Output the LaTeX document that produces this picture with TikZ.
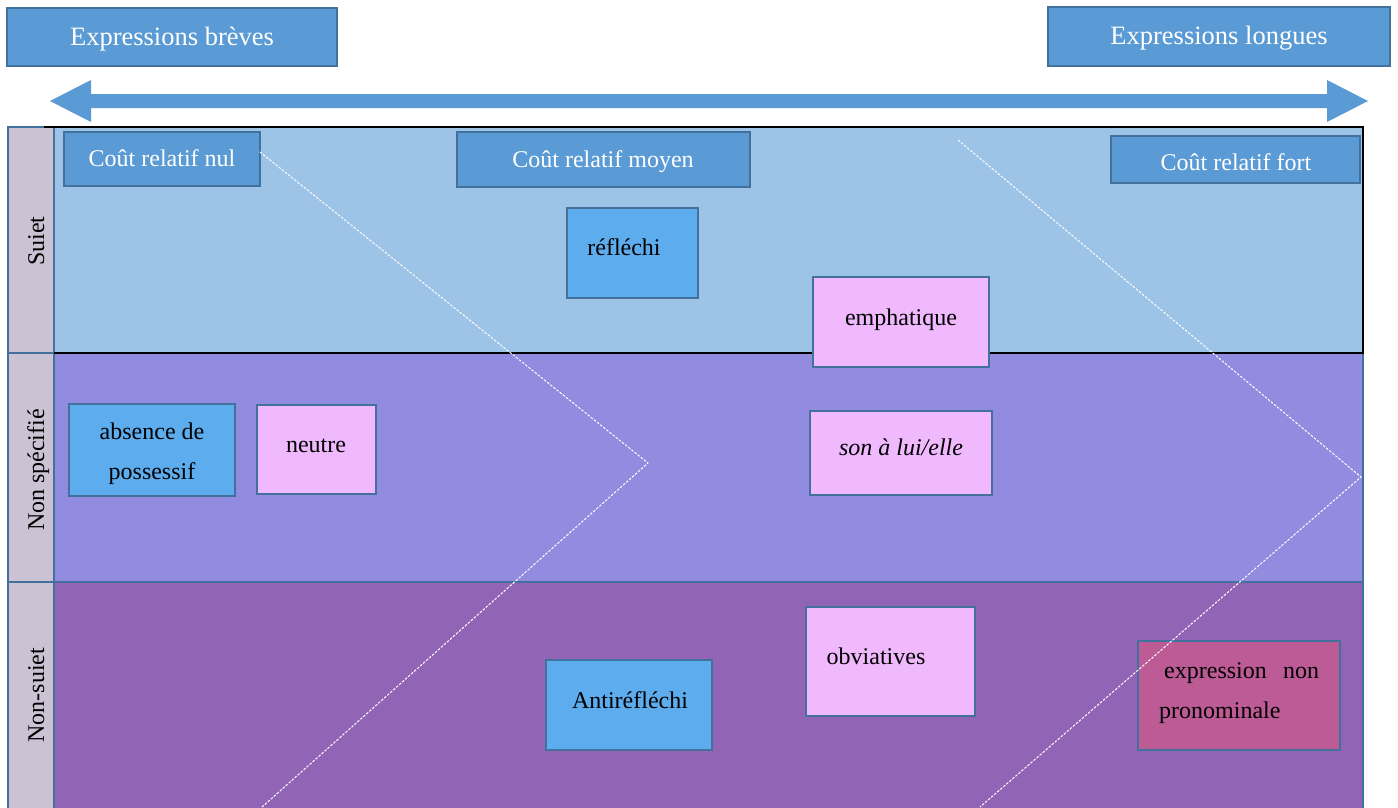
\documentclass[tikz,border=0pt]{standalone}
\usepackage{fontspec}
\setmainfont{Liberation Serif}
\definecolor{hdrblue}{HTML}{5B9BD5}
\definecolor{bordc}{HTML}{41719C}
\definecolor{suietc}{HTML}{9DC3E6}
\definecolor{nonspc}{HTML}{918CDF}
\definecolor{nonsuc}{HTML}{9264B5}
\definecolor{labc}{HTML}{CBC3D4}
\definecolor{boxblue}{HTML}{5DACEE}
\definecolor{boxpink}{HTML}{F0B9FD}
\definecolor{boxmag}{HTML}{BC5B96}
\tikzset{
  cell/.style={draw=bordc, line width=2.5pt, anchor=north west, inner sep=0pt, outer sep=0pt},
  hdr/.style={cell, fill=hdrblue},
  bluebox/.style={cell, fill=boxblue},
  pinkbox/.style={cell, fill=boxpink},
  magbox/.style={cell, fill=boxmag},
  txt/.style={anchor=base, inner sep=0pt, font=\fontsize{24}{40}\selectfont},
  wtxt/.style={txt, text=white},
  htxt/.style={anchor=base, inner sep=0pt, text=white, font=\fontsize{26.5}{32}\selectfont},
  vtxt/.style={txt, rotate=90},
  dline/.style={draw=white, line width=1pt, dash pattern=on 2.5pt off 1.5pt},
}
\begin{document}
\begin{tikzpicture}[x=1pt,y=-1pt]
\useasboundingbox (0,0) rectangle (1398,807);
\clip (0,0) rectangle (1398,807);
\fill[white] (0,0) rectangle (1398,807);
% bands
\node[cell, fill=suietc, minimum width=1309pt, minimum height=226pt] (suiet) at (54,127) {};
\node[cell, fill=nonspc, minimum width=1309pt, minimum height=229pt] (nonsp) at (54,353) {};
\node[cell, fill=nonsuc, minimum width=1309pt, minimum height=250pt] (nonsu) at (54,582) {};
\node[cell, fill=labc, minimum width=46pt, minimum height=226pt] (lsuiet) at (8,127) {};
\node[cell, fill=labc, minimum width=46pt, minimum height=229pt] (lnonsp) at (8,353) {};
\node[cell, fill=labc, minimum width=46pt, minimum height=250pt] (lnonsu) at (8,582) {};
\draw[black, line width=2pt] (44,127) -- (suiet.north east) -- (suiet.south east) -- (suiet.south west);
% side labels
\node[vtxt] (vs1) at (44,241) {Suiet};
\node[vtxt] (vs2) at (44,470) {Non spécifié};
\node[vtxt] (vs3) at (44,695) {Non-suiet};
% header boxes
\node[hdr, minimum width=330pt, minimum height=58pt] (brev) at (7,8) {};
\node[hdr, minimum width=342pt, minimum height=59pt] (long) at (1048,7) {};
\node[htxt] (tbrev) at (172,45) {Expressions brèves};
\node[htxt] (tlong) at (1219,44) {Expressions longues};
% double arrow
\coordinate (al) at (50,101);
\coordinate (ar) at (1368,101);
\fill[hdrblue] (al) -- (91,80) -- (91,94) -- (1327,94) -- (1327,80) -- (ar) -- (1327,122) -- (1327,108) -- (91,108) -- (91,122) -- cycle;
% cost boxes
\node[hdr, minimum width=196pt, minimum height=54pt] (nul) at (64,132) {};
\node[hdr, minimum width=293pt, minimum height=55pt] (moyen) at (457,132) {};
\node[hdr, minimum width=249pt, minimum height=47pt] (fort) at (1111,136) {};
\node[wtxt] (tnul) at (162,166) {Coût relatif nul};
\node[wtxt] (tmoyen) at (603,167) {Coût relatif moyen};
\node[wtxt] (tfort) at (1236,170) {Coût relatif fort};
% item boxes
\node[bluebox, minimum width=131pt, minimum height=90pt] (refl) at (567,208) {};
\node[pinkbox, minimum width=176pt, minimum height=90pt] (emph) at (813,277) {};
\node[bluebox, minimum width=166pt, minimum height=92pt] (abs) at (69,404) {};
\node[pinkbox, minimum width=119pt, minimum height=89pt] (neutre) at (257,405) {};
\node[pinkbox, minimum width=182pt, minimum height=84pt] (son) at (810,411) {};
\node[bluebox, minimum width=166pt, minimum height=90pt] (anti) at (546,660) {};
\node[pinkbox, minimum width=169pt, minimum height=109pt] (obv) at (806,607) {};
\node[magbox, minimum width=202pt, minimum height=109pt] (expr) at (1138,641) {};
\node[txt] (trefl) at (624,255) {réfléchi};
\node[txt] (temph) at (901,325) {emphatique};
\node[txt] (tabs1) at (152,439) {absence de};
\node[txt] (tabs2) at (152,479) {possessif};
\node[txt] (tneutre) at (316,452) {neutre};
\node[txt] (tson) at (901,455) {\itshape son à lui/elle};
\node[txt] (tanti) at (630,708) {Antiréfléchi};
\node[txt] (tobv) at (876,664) {obviatives};
\node[txt, anchor=base west] (texpr1) at (1164,678) {\makebox[155pt][s]{expression\hfill non}};
\node[txt, anchor=base west] (texpr2) at (1159,718) {pronominale};
% dashed lines
\coordinate (d1a) at (260,152);
\coordinate (d1b) at (648,463);
\coordinate (d1c) at (262,807);
\coordinate (d2a) at (958,140);
\coordinate (d2b) at (1361,477);
\coordinate (d2c) at (980,807);
\draw[dline] (d1a) -- (d1b) -- (d1c);
\draw[dline] (d2a) -- (d2b) -- (d2c);
\end{tikzpicture}
\end{document}
